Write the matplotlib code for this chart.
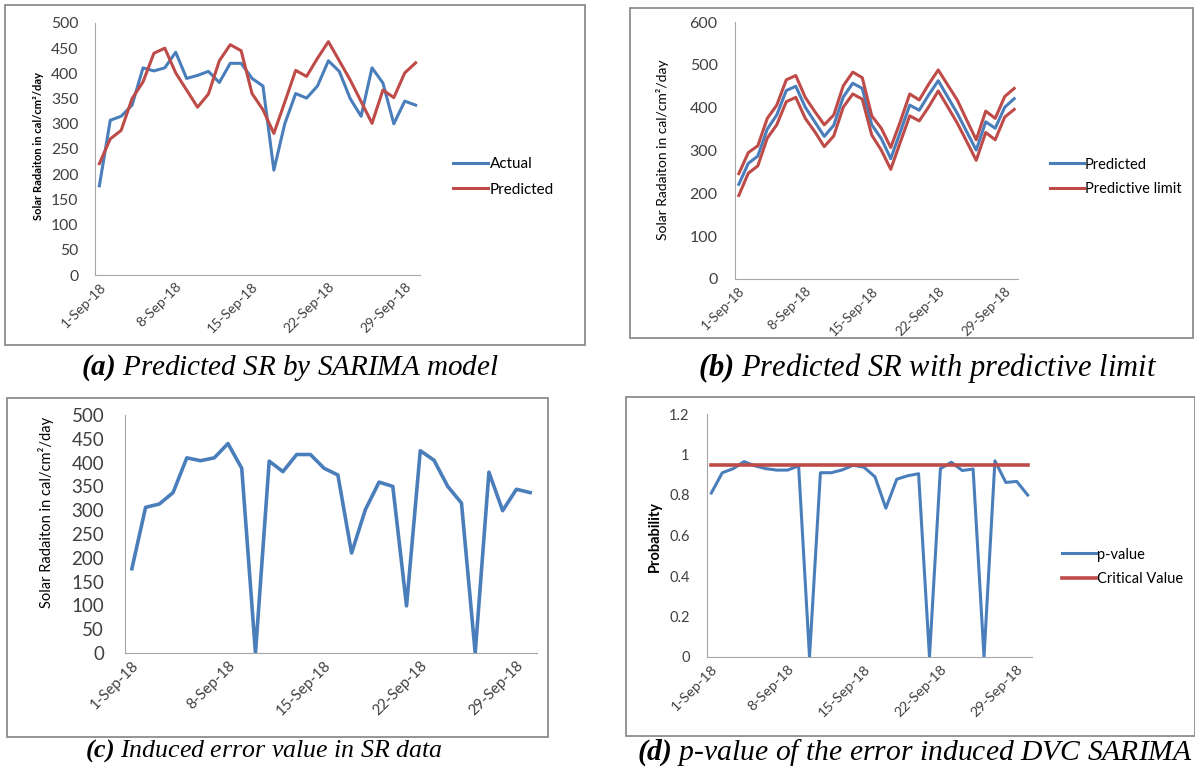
import matplotlib
matplotlib.use("Agg")
import matplotlib.pyplot as plt
from matplotlib.patches import Rectangle
import numpy as np

# data (1 to 30 Sep 2018)
days = np.arange(1, 31)
tick_days = [1, 8, 15, 22, 29]
tick_labels = ['1-Sep-18', '8-Sep-18', '15-Sep-18', '22-Sep-18', '29-Sep-18']

actual = [177, 307, 315, 337, 411, 405, 411, 442, 390, 396, 404, 382, 420, 420, 390,
          375, 208, 300, 360, 351, 375, 425, 404, 350, 315, 411, 381, 300, 345, 337]
predicted = [221, 270, 287, 350, 383, 440, 450, 401, 367, 333, 359, 425, 457, 445, 360,
             328, 281, 343, 406, 394, 430, 463, 425, 387, 344, 301, 367, 352, 401, 421]
upper_limit = [246, 295, 311, 375, 406, 465, 475, 424, 391, 360, 383, 451, 483, 470, 381,
               352, 307, 367, 432, 418, 455, 488, 453, 418, 371, 325, 392, 375, 426, 445]
lower_limit = [195, 247, 264, 329, 360, 414, 424, 375, 344, 309, 334, 401, 432, 420, 336,
               301, 256, 319, 381, 369, 402, 439, 402, 364, 321, 277, 342, 325, 378, 396]
error_data = [177, 306, 313, 337, 410, 404, 410, 440, 388, 0, 403, 381, 417, 417, 388,
              374, 210, 301, 359, 350, 99, 425, 405, 350, 315, 0, 380, 299, 344, 337]
p_value = [0.81, 0.91, 0.93, 0.965, 0.944, 0.93, 0.923, 0.923, 0.944, 0.0, 0.91, 0.91,
           0.924, 0.947, 0.937, 0.89, 0.735, 0.878, 0.895, 0.905, 0.0, 0.93, 0.962,
           0.921, 0.928, 0.0, 0.969, 0.862, 0.867, 0.80]
critical = [0.95] * 30

captions = [r'$\mathbf{(a)}$ Predicted SR by SARIMA model',
            r'$\mathbf{(b)}$ Predicted SR with predictive limit',
            r'$\mathbf{(c)}$ Induced error value in SR data',
            r'$\mathbf{(d)}$ p-value of the error induced DVC SARIMA']

BLUE = '#4A7EBB'
RED = '#BE4B48'
GREY = '#8C8C8C'
W, H = 1195, 773

plt.rcParams['font.family'] = ['Lato', 'DejaVu Sans']
plt.rcParams['mathtext.fontset'] = 'custom'
plt.rcParams['mathtext.bf'] = 'Liberation Serif:bold:italic'
plt.rcParams['mathtext.rm'] = 'Liberation Serif:italic'
plt.rcParams['mathtext.it'] = 'Liberation Serif:italic'

fig = plt.figure(figsize=(W / 100, H / 100), dpi=100)


def axes_px(x0, y0, x1, y1):
    return fig.add_axes([x0 / W, 1 - y1 / H, (x1 - x0) / W, (y1 - y0) / H])


def box_px(x0, y0, x1, y1):
    fig.add_artist(Rectangle((x0 / W, 1 - y1 / H), (x1 - x0) / W, (y1 - y0) / H,
                             transform=fig.transFigure, fill=False,
                             edgecolor=GREY, lw=1.3))


def style(ax, pad, ysize, xsize, ypad=12):
    for s in ['top', 'right']:
        ax.spines[s].set_visible(False)
    for s in ['left', 'bottom']:
        ax.spines[s].set_color('#A6A6A6')
    ax.set_xlim(1 - pad, 30 + pad)
    ax.set_xticks(tick_days)
    ax.set_xticklabels(tick_labels, rotation=45, ha='right', va='top',
                       rotation_mode='anchor', fontsize=xsize, color='#404040')
    ax.tick_params(axis='both', length=0, colors='#404040')
    ax.tick_params(axis='y', pad=ypad, labelsize=ysize)
    ax.tick_params(axis='x', pad=4)


def legend(ax, x, y, size):
    ax.legend(loc='center left', bbox_to_anchor=(x / W, 1 - y / H),
              bbox_transform=fig.transFigure, frameon=False, fontsize=size,
              handlelength=2.3, handletextpad=0.1, labelspacing=0.75, borderpad=0,
              borderaxespad=0)


def caption(x, y, text, size):
    fig.text(x / W, 1 - y / H, text, fontsize=size, family='Liberation Serif',
             style='italic', ha='center', va='center')


# (a)
box_px(5, 5, 585, 345)
ax = axes_px(95, 23, 420, 275)
ax.plot(days, actual, color=BLUE, lw=2.2, label='Actual')
ax.plot(days, predicted, color=RED, lw=2.2, label='Predicted')
ax.set_ylim(0, 500)
ax.set_yticks(range(0, 501, 50))
style(ax, 0.4, 11.3, 10)
ax.set_ylabel('Solar Radaiton in cal/cm²/day', fontsize=8, fontweight='bold')
ax.yaxis.set_label_coords(44 / W, 1 - 146 / H, transform=fig.transFigure)
legend(ax, 453, 177, 11)
caption(290, 368, captions[0], 21)

# (b)
box_px(630, 8, 1193, 338)
ax = axes_px(735, 22, 1018, 279)
ax.plot(days, predicted, color=BLUE, lw=2.2, label='Predicted')
ax.plot(days, upper_limit, color=RED, lw=2.2, label='Predictive limit')
ax.plot(days, lower_limit, color=RED, lw=2.2)
ax.set_ylim(0, 600)
ax.set_yticks(range(0, 601, 100))
style(ax, 0.4, 11.5, 9.6, ypad=12.5)
ax.set_ylabel('Solar Radaiton in cal/cm²/day', fontsize=10)
ax.yaxis.set_label_coords(669 / W, 1 - 150 / H, transform=fig.transFigure)
legend(ax, 1050, 177, 10.5)
caption(928, 368, captions[1], 22)

# (c)
box_px(7, 398, 548, 737)
ax = axes_px(125, 415, 537, 653)
ax.plot(days, error_data, color=BLUE, lw=2.6)
ax.set_ylim(0, 500)
ax.set_yticks(range(0, 501, 50))
style(ax, 0.5, 13.5, 10.8, ypad=15)
ax.set_ylabel('Solar Radaiton in cal/cm²/day', fontsize=10.5)
ax.yaxis.set_label_coords(54 / W, 1 - 512 / H, transform=fig.transFigure)
caption(264, 751, captions[2], 18.6)

# (d)
box_px(626, 397, 1195, 736)
ax = axes_px(707, 414, 1032, 657)
ax.plot(days, p_value, color=BLUE, lw=2.2, label='p-value')
ax.plot(days, critical, color=RED, lw=2.6, label='Critical Value')
ax.set_ylim(0, 1.2)
ax.set_yticks([0, 0.2, 0.4, 0.6, 0.8, 1, 1.2])
ax.set_yticklabels(['0', '0.2', '0.4', '0.6', '0.8', '1', '1.2'])
style(ax, 0.4, 10.5, 10.4, ypad=12.5)
ax.set_ylabel('Probability', fontsize=10.5, fontweight='bold')
ax.yaxis.set_label_coords(662 / W, 1 - 536 / H, transform=fig.transFigure)
legend(ax, 1062, 567, 10.5)
caption(915, 753, captions[3], 21.3)

fig.savefig('out.png', dpi=100)
